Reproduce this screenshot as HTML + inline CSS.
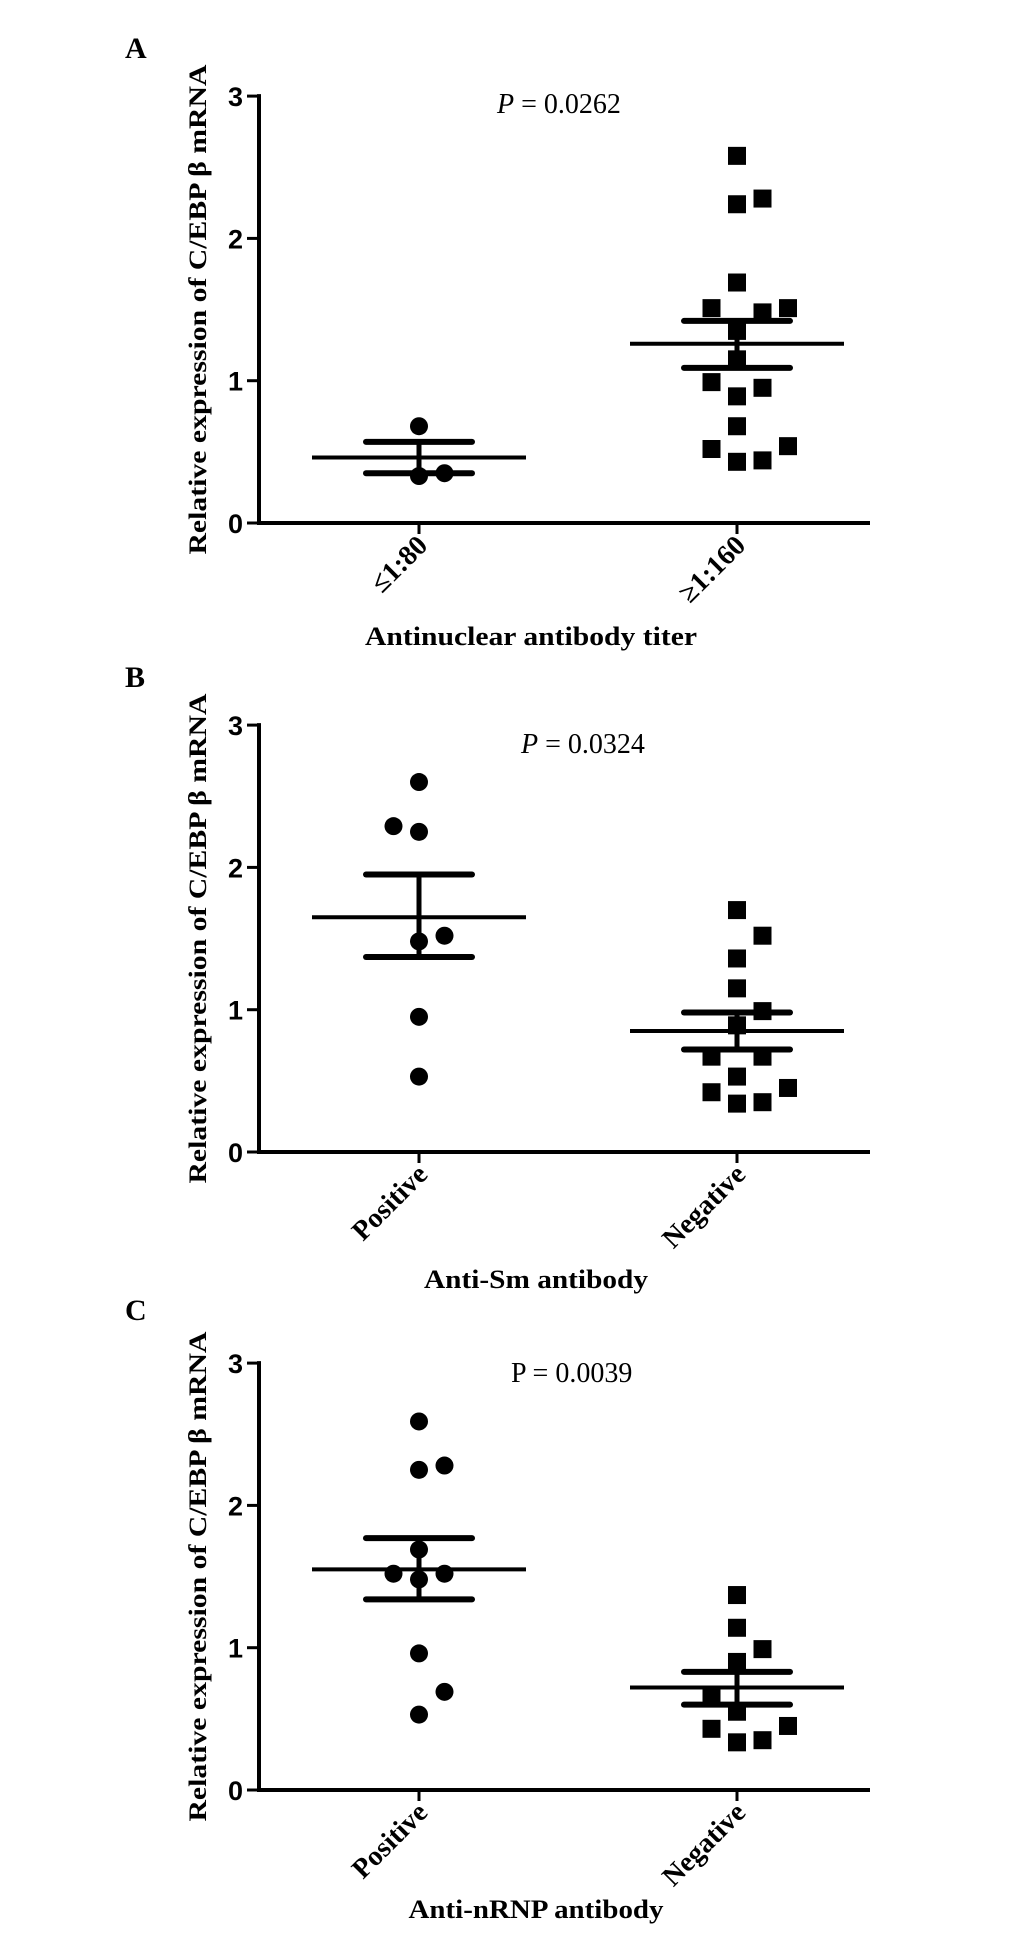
<!DOCTYPE html>
<html><head><meta charset="utf-8">
<style>
html,body{margin:0;padding:0;background:#fff;}
svg{display:block;}
.ser{font-family:"Liberation Serif",serif;}
.san{font-family:"Liberation Sans",sans-serif;}
</style></head>
<body>
<svg id="fig" width="1033" height="1933" viewBox="0 0 1033 1933" xmlns="http://www.w3.org/2000/svg"></svg>
<script>
const yTicks = [0, 1, 2, 3];
const categoriesA = ["≤1:80", "≥1:160"];
const categoriesB = ["Positive", "Negative"];
const categoriesC = ["Positive", "Negative"];
const aG1Values = [0.68, 0.33, 0.35];
const aG1Cols = [0, 0, 1];
const aG2Values = [2.58, 2.24, 2.28, 1.69, 1.51, 1.48, 1.51, 1.35, 1.15, 0.99, 0.95, 0.89, 0.68, 0.52, 0.54, 0.43, 0.44];
const aG2Cols = [0, 0, 1, 0, -1, 1, 2, 0, 0, -1, 1, 0, 0, -1, 2, 0, 1];
const aMeans = [0.46, 1.26];
const aSemHi = [0.57, 1.42];
const aSemLo = [0.35, 1.09];
const bG1Values = [2.60, 2.29, 2.25, 1.52, 1.48, 0.95, 0.53];
const bG1Cols = [0, -1, 0, 1, 0, 0, 0];
const bG2Values = [1.70, 1.52, 1.36, 1.15, 0.99, 0.89, 0.67, 0.67, 0.53, 0.42, 0.45, 0.34, 0.35];
const bG2Cols = [0, 1, 0, 0, 1, 0, -1, 1, 0, -1, 2, 0, 1];
const bMeans = [1.65, 0.85];
const bSemHi = [1.95, 0.98];
const bSemLo = [1.37, 0.72];
const cG1Values = [2.59, 2.28, 2.25, 1.69, 1.52, 1.52, 1.48, 0.96, 0.69, 0.53];
const cG1Cols = [0, 1, 0, 0, -1, 1, 0, 0, 1, 0];
const cG2Values = [1.37, 1.14, 0.99, 0.90, 0.67, 0.55, 0.43, 0.45, 0.335, 0.35];
const cG2Cols = [0, 0, 1, 0, -1, 0, -1, 2, 0, 1];
const cMeans = [1.55, 0.72];
const cSemHi = [1.77, 0.83];
const cSemLo = [1.34, 0.60];

const NS = "http://www.w3.org/2000/svg";
const svg = document.getElementById("fig");
function mk(tag, attrs, parent, text) {
  const e = document.createElementNS(NS, tag);
  for (const k in attrs) e.setAttribute(k, attrs[k]);
  if (text !== undefined) e.textContent = text;
  (parent || svg).appendChild(e);
  return e;
}
const X0 = 259, X1 = 870, GX = [419, 737], UNIT = 142.3, JIT = 25.5;

function panel(cfg) {
  const g = mk("g", {});
  
  
  const y = v => cfg.y0 - v * UNIT;
  const x = (gi, col) => GX[gi] + col * JIT;
  const lab = mk("text", {x: 125, y: cfg.labelY, class: "ser", "font-size": 30, "font-weight": "bold"}, g, cfg.label);
  
  
  const ya = mk("line", {x1: X0, y1: y(3) - 2, x2: X0, y2: y(0) + 2, stroke: "#000", "stroke-width": 4}, g);
  
  
  const xa = mk("line", {x1: X0 - 2, y1: y(0), x2: X1, y2: y(0), stroke: "#000", "stroke-width": 4}, g);
  
  
  yTicks.forEach(t => {
    const tk = mk("line", {x1: X0 - 12, y1: y(t), x2: X0, y2: y(t), stroke: "#000", "stroke-width": 3}, g);
    
    
    const tl = mk("text", {x: 243, y: y(t) + 10, class: "san", "font-size": 27, "font-weight": "bold", "text-anchor": "end"}, g, String(t));
    
    
  });
  const cy = (y(0) + y(3)) / 2;
  const yt = mk("text", {x: 0, y: 0, class: "ser", "font-size": 25, "font-weight": "bold", "text-anchor": "middle", textLength: 490, lengthAdjust: "spacingAndGlyphs", transform: `translate(206,${cy}) rotate(-90)`}, g, "Relative expression of C/EBP β  mRNA");
  
  
  cfg.cats.forEach((c, i) => {
    const tk = mk("line", {x1: GX[i], y1: y(0), x2: GX[i], y2: y(0) + 11, stroke: "#000", "stroke-width": 3}, g);
    
    
    const tl = mk("text", {x: 0, y: 0, class: "ser", "font-size": 28, "font-weight": "bold", "text-anchor": "end", transform: `translate(${GX[i] + 10},${y(0) + 24}) rotate(-45)`}, g, c);
    
    
  });
  const xt = mk("text", {x: cfg.xtX, y: cfg.xtY, class: "ser", "font-size": 26, "font-weight": "bold", "text-anchor": "middle", textLength: cfg.xtLen, lengthAdjust: "spacingAndGlyphs"}, g, cfg.xtitle);
  
  
  const pt = mk("text", {x: cfg.pX, y: y(3) + cfg.pDy, class: "ser", "font-size": 28}, g);
  
  
  if (cfg.pItalic) { mk("tspan", {"font-style": "italic"}, pt, "P"); mk("tspan", {}, pt, " = " + cfg.p); }
  else pt.textContent = "P = " + cfg.p;
  [[cfg.g1v, cfg.g1c, cfg.shape1], [cfg.g2v, cfg.g2c, cfg.shape2]].forEach((grp, gi) => {
    grp[0].forEach((v, k) => {
      const px = x(gi, grp[1][k]), py = y(v);
      let m;
      if (grp[2] === "circle") m = mk("circle", {cx: px, cy: py, r: 9, fill: "#000"}, g);
      else m = mk("rect", {x: px - 9, y: py - 9, width: 18, height: 18, fill: "#000"}, g);
      
      
    });
  });
  [0, 1].forEach(gi => {
    const ml = mk("line", {x1: GX[gi] - 107, x2: GX[gi] + 107, y1: y(cfg.means[gi]), y2: y(cfg.means[gi]), stroke: "#000", "stroke-width": 4}, g);
    
    
    const vl = mk("line", {x1: GX[gi], x2: GX[gi], y1: y(cfg.hi[gi]), y2: y(cfg.lo[gi]), stroke: "#000", "stroke-width": 5}, g);
    
    
    [cfg.hi[gi], cfg.lo[gi]].forEach(v => {
      const cp = mk("line", {x1: GX[gi] - 53, x2: GX[gi] + 53, y1: y(v), y2: y(v), stroke: "#000", "stroke-width": 6, "stroke-linecap": "round"}, g);
      
      
    });
  });
}

panel({key: "a", label: "A", labelY: 58, y0: 523, cats: categoriesA, xtitle: "Antinuclear antibody titer", xtX: 531, xtY: 645, xtLen: 332,
  pX: 497, pDy: 17, p: "0.0262", pItalic: true,
  g1v: aG1Values, g1c: aG1Cols, g2v: aG2Values, g2c: aG2Cols, shape1: "circle", shape2: "square",
  means: aMeans, hi: aSemHi, lo: aSemLo});
panel({key: "b", label: "B", labelY: 687, y0: 1152, cats: categoriesB, xtitle: "Anti-Sm antibody", xtX: 536, xtY: 1288, xtLen: 224,
  pX: 521, pDy: 28, p: "0.0324", pItalic: true,
  g1v: bG1Values, g1c: bG1Cols, g2v: bG2Values, g2c: bG2Cols, shape1: "circle", shape2: "square",
  means: bMeans, hi: bSemHi, lo: bSemLo});
panel({key: "c", label: "C", labelY: 1320, y0: 1790, cats: categoriesC, xtitle: "Anti-nRNP antibody", xtX: 536, xtY: 1918, xtLen: 255,
  pX: 511, pDy: 19, p: "0.0039", pItalic: false,
  g1v: cG1Values, g1c: cG1Cols, g2v: cG2Values, g2c: cG2Cols, shape1: "circle", shape2: "square",
  means: cMeans, hi: cSemHi, lo: cSemLo});
</script>
</body></html>
